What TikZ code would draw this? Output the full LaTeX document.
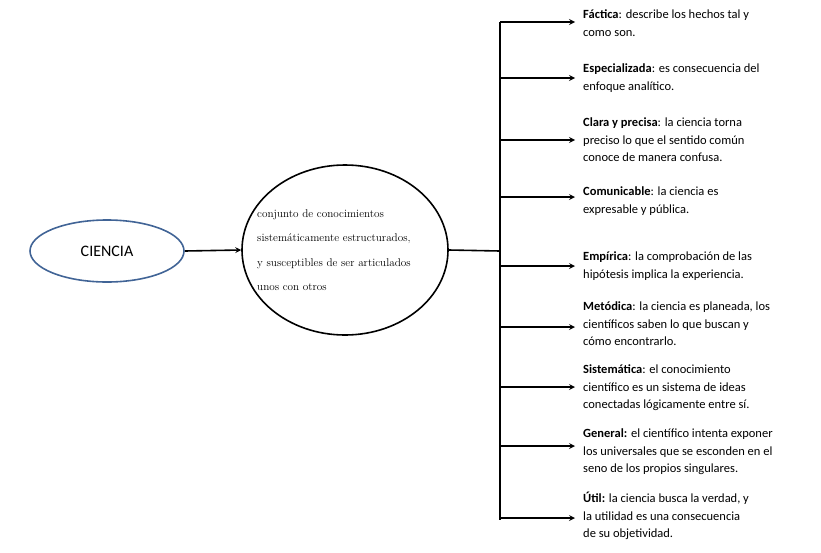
\documentclass[tikz,border=0pt]{standalone}
\usepackage{fontspec}
\setsansfont{Carlito}
\usetikzlibrary{positioning,shapes.geometric}
\definecolor{azulborde}{RGB}{65,100,150}
\tikzset{
  rama/.style={->,>=stealth,line width=1.6pt},
  desc/.style={anchor=north west,align=left,inner sep=0pt,font=\sffamily\fontsize{12.5}{17.5}\selectfont}
}
\begin{document}
\begin{tikzpicture}[x=1pt,y=-1pt]
\useasboundingbox (0,0) rectangle (821,552);
\node[draw=azulborde,line width=1.6pt,ellipse,minimum width=154,minimum height=62] (ciencia) at (107,251) {};
\node[font=\sffamily\fontsize{16}{16}\selectfont] at (ciencia) {CIENCIA};
\node[draw,line width=1.6pt,ellipse,minimum width=206,minimum height=170,inner sep=0pt] (conj) at (345,250) {};
\node[anchor=west,align=left,inner sep=0pt,font=\fontsize{11.2}{24.5}\selectfont] (conjtxt) at (257,250)
  {conjunto de conocimientos\\sistemáticamente estructurados,\\y susceptibles de ser articulados\\unos con otros};
\draw[rama] (ciencia.east) -- (conj.west);
\coordinate (eje) at (500,251);
\coordinate (arriba) at (500,22);
\coordinate (abajo) at (500,520);
\draw[line width=1.6pt] (conj.east) -- (eje);
\draw[line width=1.6pt] (arriba) -- (abajo);
% caracteristicas
\foreach \y/\t/\txt in {
  22/10/{\textbf{Fáctica}: describe los hechos tal y\\como son.},
  78/64/{\textbf{Especializada}: es consecuencia del\\enfoque analítico.},
  140/118/{\textbf{Clara y precisa}: la ciencia torna\\preciso lo que el sentido común\\conoce de manera confusa.},
  197/187/{\textbf{Comunicable}: la ciencia es\\expresable y pública.},
  266/252/{\textbf{Empírica}: la comprobación de las\\hipótesis implica la experiencia.},
  327/302/{\textbf{Metódica}: la ciencia es planeada, los\\científicos saben lo que buscan y\\cómo encontrarlo.},
  387/365/{\textbf{Sistemática}: el conocimiento\\científico es un sistema de ideas\\conectadas lógicamente entre sí.},
  446/429/{\textbf{General:} el científico intenta exponer\\los universales que se esconden en el\\seno de los propios singulares.},
  518/492/{\textbf{Útil:} la ciencia busca la verdad, y\\la utilidad es una consecuencia\\de su objetividad.}}{
  \draw[rama] (500,\y) -- (575,\y);
  \node[desc] at (583,\t) {\txt};
}
\end{tikzpicture}
\end{document}
